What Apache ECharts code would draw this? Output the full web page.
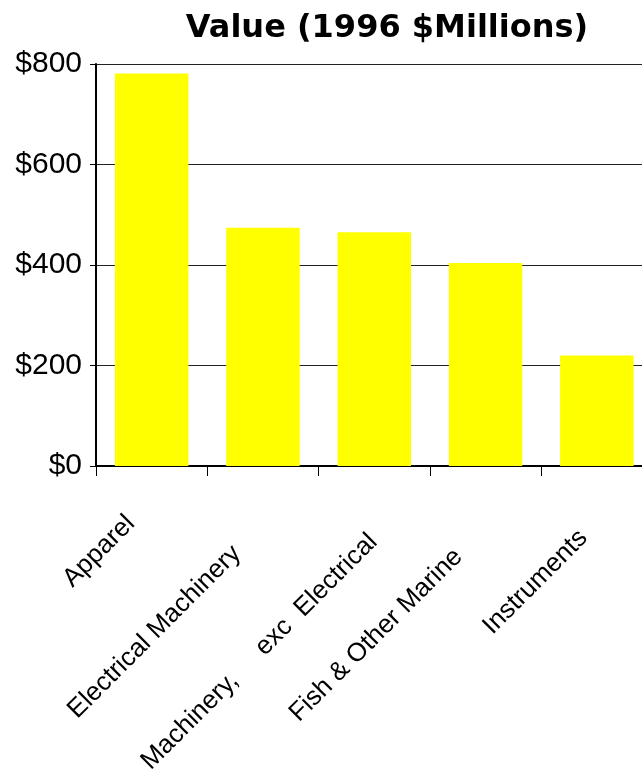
<!DOCTYPE html>
<html>
<head>
<meta charset="utf-8">
<script src="https://cdn.jsdelivr.net/npm/echarts@6/dist/echarts.min.js"></script>
<style>
html,body{margin:0;padding:0;background:#fff;overflow:hidden;width:642px;height:772px;}
#chart{width:660px;height:772px;}
</style>
</head>
<body>
<div id="chart"></div>
<script>
const titleText = 'Value (1996 $Millions)';
const categories = ['Apparel', 'Electrical Machinery', 'Machinery,     exc  Electrical', 'Fish & Other Marine', 'Instruments'];
const values = [781, 474, 465, 404, 220];
const yTicks = [0, 200, 400, 600, 800];

// per-label shift along/perpendicular to the rotated text (style only)
const labelPad = [[35, 47, 0, 0], [70, 72, 0, 0], [89, 46, 0, 0], [73, 75, 0, 0], [66, 52, 0, 0]];

const chart = echarts.init(document.getElementById('chart'), null, {renderer: 'canvas'});
const rich = {};
labelPad.forEach((p, i) => {
  rich['l' + i] = {padding: p, fontFamily: 'Liberation Sans', fontSize: 26, color: '#000'};
});

chart.setOption({
  animation: false,
  backgroundColor: '#fff',
  title: {
    text: titleText,
    left: 382,
    top: 8,
    textAlign: 'center',
    textStyle: {fontFamily: 'DejaVu Sans', fontWeight: 'bold', fontSize: 32, color: '#000'}
  },
  grid: {left: 96, right: 7.5, top: 64, bottom: 306, containLabel: false, outerBoundsMode: 'none'},
  xAxis: {
    type: 'category',
    data: categories,
    boundaryGap: true,
    axisLine: {show: true, lineStyle: {color: '#000', width: 2}},
    axisTick: {show: true, alignWithLabel: false, length: 10, lineStyle: {color: '#000', width: 1}},
    axisLabel: {
      interval: 0,
      rotate: 45,
      margin: 8,
      hideOverlap: false,
      formatter: (v) => '{l' + categories.indexOf(v) + '|' + v + '}',
      rich: rich
    },
    splitLine: {show: false}
  },
  yAxis: {
    type: 'value',
    min: yTicks[0],
    max: yTicks[yTicks.length - 1],
    interval: yTicks[1] - yTicks[0],
    axisLine: {show: true, lineStyle: {color: '#000', width: 2}},
    axisTick: {show: true, length: 6, lineStyle: {color: '#000'}},
    axisLabel: {
      margin: 14,
      formatter: (v) => '$' + v,
      fontFamily: 'Liberation Sans',
      fontSize: 30,
      color: '#000'
    },
    splitLine: {show: true, lineStyle: {color: '#222', width: 1.2}}
  },
  series: [{
    type: 'bar',
    data: values,
    barCategoryGap: '34%',
    itemStyle: {color: '#FFFF00'}
  }]
});
</script>
</body>
</html>
